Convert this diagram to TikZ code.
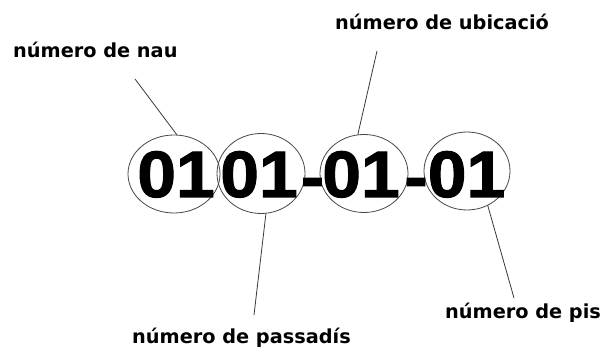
\documentclass[tikz,border=0pt]{standalone}
\usepackage{fontspec}
\usetikzlibrary{shapes.geometric}
\newfontfamily\labelfont{DejaVu Sans}
\newfontfamily\digitfont{Liberation Sans Bold}[FakeBold=1.6,FakeStretch=1.06]
\tikzset{
  x=1pt, y=-1pt,
  ring/.style={ellipse, draw=black!72, line width=0.8pt, inner sep=0pt},
  lead/.style={draw=black!78, line width=0.8pt},
  tag/.style={inner sep=0pt, anchor=base west, font=\labelfont\bfseries\fontsize{19.3}{22}\selectfont, text=black},
  code/.style={inner sep=0pt, anchor=base, font=\digitfont\fontsize{65.6}{70}\selectfont, text=black},
}
\begin{document}
\begin{tikzpicture}
\useasboundingbox (0,0) rectangle (602,347);
\fill[white] (0,0) rectangle (602,347);

% rings around each part of the code
\node[ring, minimum width=92, minimum height=78] (e1) at (174,174) {};
\node[ring, minimum width=88, minimum height=80] (e2) at (261,173.5) {};
\node[ring, minimum width=88, minimum height=78] (e3) at (364,173.5) {};
\node[ring, minimum width=86, minimum height=78] (e4) at (467,171) {};

% the code itself
\node[code] (d1) at (176,197) {01};
\node[code] (d2) at (259,197) {01};
\node[code] (h1) at (312.5,199) {-};
\node[code] (d3) at (361,197) {01};
\node[code] (h2) at (416,199) {-};
\node[code] (d4) at (466.5,197) {01};

% labels
\node[tag] (lnau) at (13,58) {número de nau};
\node[tag] (lubi) at (335,30) {número de ubicació};
\node[tag] (lpas) at (132,343) {número de passadís};
\node[tag] (lpis) at (445,318) {número de pis};

% free ends of the leader lines
\coordinate (tnau) at (135,79);
\coordinate (tubi) at (377,51);
\coordinate (tpas) at (254,315);
\coordinate (tpis) at (514,298);

% leader lines
\draw[lead] (tnau) -- (e1.86);
\draw[lead] (tubi) -- (e3.99);
\draw[lead] (tpas) -- (e2.-83);
\draw[lead] (tpis) -- (e4.-59);
\end{tikzpicture}
\end{document}
